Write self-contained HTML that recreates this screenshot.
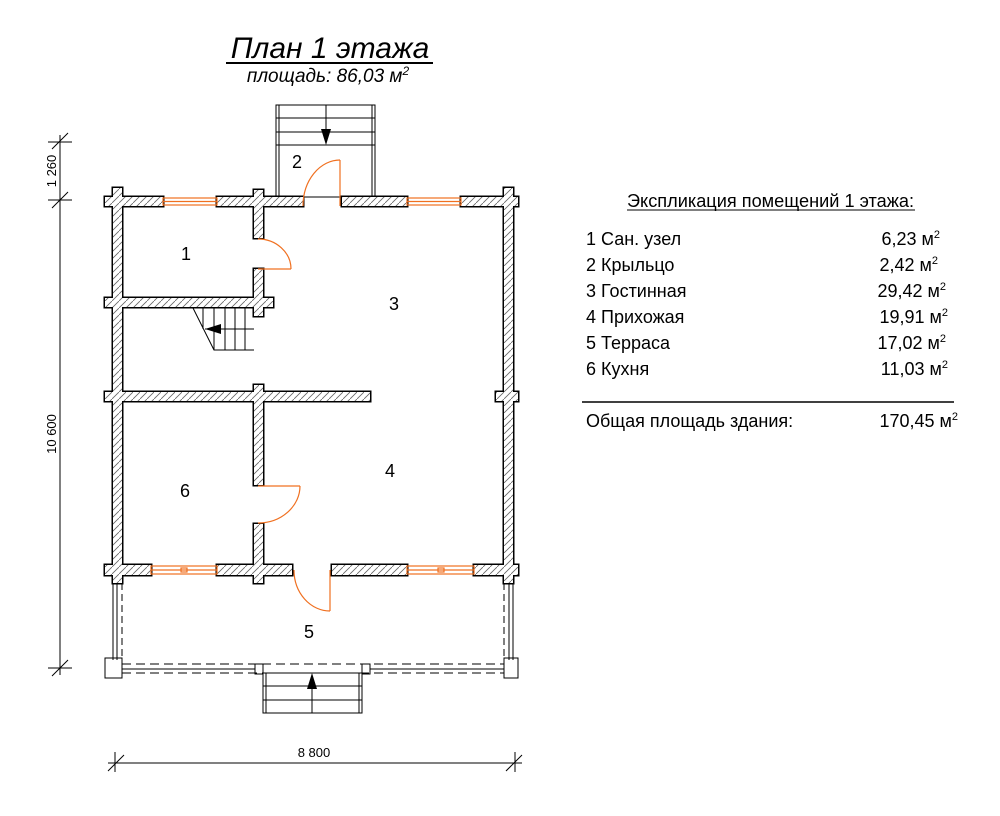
<!DOCTYPE html>
<html><head><meta charset="utf-8"><style>
html,body{margin:0;padding:0;background:#fff;}
svg{display:block;font-family:"Liberation Sans",sans-serif;}
</style></head><body>
<svg width="1000" height="816" viewBox="0 0 1000 816" xmlns="http://www.w3.org/2000/svg">
<defs>
<pattern id="h" width="7" height="7" patternUnits="userSpaceOnUse">
<rect width="7" height="7" fill="#fff"/>
<path d="M-1,8 L8,-1" stroke="#666" stroke-width="0.8"/>
</pattern>
</defs>
<!-- title -->
<text x="330" y="58" font-size="30" font-style="italic" text-anchor="middle" fill="#000">План 1 этажа</text>
<line x1="226" y1="63" x2="433" y2="63" stroke="#000" stroke-width="2"/>
<text x="328" y="82" font-size="19" font-style="italic" text-anchor="middle">площадь: 86,03 м<tspan font-size="12" dy="-7">2</tspan></text>

<!-- porch 2 stairs -->
<g stroke="#000" stroke-width="1" fill="none">
<rect x="276" y="105" width="99" height="92"/>
<line x1="279" y1="105" x2="279" y2="197"/><line x1="372" y1="105" x2="372" y2="197"/>
<line x1="276" y1="118" x2="375" y2="118"/><line x1="276" y1="132" x2="375" y2="132"/><line x1="276" y1="145" x2="375" y2="145"/>
<line x1="326" y1="105" x2="326" y2="132"/>
</g>
<polygon points="321,129 331,129 326,145" fill="#000"/>

<!-- inner stairs -->
<g stroke="#000" stroke-width="1" fill="none">
<polyline points="193,308 214,350 254,350"/>
<line x1="203" y1="308" x2="203" y2="329"/>
<line x1="214" y1="308" x2="214" y2="350"/><line x1="225" y1="308" x2="225" y2="350"/>
<line x1="235" y1="308" x2="235" y2="350"/><line x1="245" y1="308" x2="245" y2="350"/>
<line x1="205" y1="329" x2="254" y2="329"/>
</g>
<polygon points="205,329 221,324 221,334" fill="#000"/>

<!-- terrace -->
<g stroke="#000" stroke-width="1" fill="none">
<line x1="113" y1="583" x2="113" y2="660"/><line x1="122" y1="583" x2="122" y2="660" stroke-dasharray="7,4"/>
<line x1="117" y1="583" x2="117" y2="660"/>
<line x1="513" y1="583" x2="513" y2="660"/><line x1="504" y1="583" x2="504" y2="660" stroke-dasharray="7,4"/>
<line x1="509" y1="583" x2="509" y2="660"/>
<line x1="122" y1="664" x2="504" y2="664" stroke-dasharray="9,5"/>
<line x1="122" y1="673" x2="504" y2="673" stroke-dasharray="9,5"/>
<line x1="122" y1="669" x2="255" y2="669"/><line x1="370" y1="669" x2="504" y2="669"/>
<rect x="105" y="658" width="17" height="20"/>
<rect x="504" y="658" width="14" height="20"/>
<rect x="255" y="664" width="8" height="10"/><rect x="362" y="664" width="8" height="10"/>
<rect x="263" y="673" width="99" height="40"/>
<line x1="266" y1="673" x2="266" y2="713"/><line x1="359" y1="673" x2="359" y2="713"/>
<line x1="263" y1="686" x2="362" y2="686"/><line x1="263" y1="700" x2="362" y2="700"/>
<line x1="312" y1="680" x2="312" y2="713"/>
</g>
<polygon points="307,689 317,689 312,673" fill="#000"/>

<!-- walls: stroke layer -->
<g stroke="#000" stroke-width="3" fill="#000">
<rect x="105" y="197" width="58" height="9"/><rect x="217" y="197" width="86" height="9"/>
<rect x="342" y="197" width="65" height="9"/><rect x="461" y="197" width="57" height="9"/>
<rect x="113" y="188" width="9" height="395"/><rect x="504" y="188" width="9" height="395"/>
<rect x="254" y="190" width="9" height="48"/>
<rect x="105" y="298" width="168" height="9"/><rect x="254" y="269" width="9" height="47"/>
<rect x="105" y="392" width="265" height="9"/><rect x="496" y="392" width="22" height="9"/>
<rect x="254" y="385" width="9" height="100"/><rect x="254" y="524" width="9" height="59"/>
<rect x="105" y="565" width="46" height="10"/><rect x="217" y="565" width="75" height="10"/>
<rect x="332" y="565" width="75" height="10"/><rect x="474" y="565" width="44" height="10"/>
</g>
<g stroke="none" fill="url(#h)">
<rect x="105" y="197" width="58" height="9"/><rect x="217" y="197" width="86" height="9"/>
<rect x="342" y="197" width="65" height="9"/><rect x="461" y="197" width="57" height="9"/>
<rect x="113" y="188" width="9" height="395"/><rect x="504" y="188" width="9" height="395"/>
<rect x="254" y="190" width="9" height="48"/>
<rect x="105" y="298" width="168" height="9"/><rect x="254" y="269" width="9" height="47"/>
<rect x="105" y="392" width="265" height="9"/><rect x="496" y="392" width="22" height="9"/>
<rect x="254" y="385" width="9" height="100"/><rect x="254" y="524" width="9" height="59"/>
<rect x="105" y="565" width="46" height="10"/><rect x="217" y="565" width="75" height="10"/>
<rect x="332" y="565" width="75" height="10"/><rect x="474" y="565" width="44" height="10"/>
</g>

<!-- windows & doors -->
<g stroke="#f07020" stroke-width="1.2" fill="none">
<rect x="163" y="198" width="54" height="7"/><line x1="163" y1="201.5" x2="217" y2="201.5"/>
<rect x="407" y="198" width="54" height="7"/><line x1="407" y1="201.5" x2="461" y2="201.5"/>
<rect x="151" y="566" width="66" height="8"/><line x1="151" y1="570" x2="217" y2="570"/>
<rect x="181" y="568" width="6" height="4"/>
<rect x="407" y="566" width="67" height="8"/><line x1="407" y1="570" x2="474" y2="570"/>
<rect x="438" y="568" width="6" height="4"/>
<line x1="340" y1="206" x2="340" y2="160"/><path d="M340,160 A37,46 0 0 0 303,206"/>
<line x1="258" y1="269" x2="291" y2="269"/><path d="M258,239 A33,30 0 0 1 291,269"/>
<line x1="258" y1="486" x2="300" y2="486"/><path d="M300,486 A42,37 0 0 1 258,523"/>
<line x1="330" y1="570" x2="330" y2="611"/><path d="M294,570 A36,41 0 0 0 330,611"/>
</g>

<!-- room numbers -->
<g font-size="18" text-anchor="middle">
<text x="297" y="168">2</text><text x="186" y="260">1</text><text x="394" y="310">3</text>
<text x="390" y="477">4</text><text x="185" y="497">6</text><text x="309" y="638">5</text>
</g>

<!-- dims -->
<g stroke="#000" stroke-width="1">
<line x1="60" y1="135" x2="60" y2="675"/>
<line x1="52" y1="149" x2="68" y2="133"/><line x1="52" y1="208" x2="68" y2="192"/><line x1="52" y1="676" x2="68" y2="660"/>
<line x1="48" y1="142" x2="72" y2="142"/><line x1="48" y1="200" x2="72" y2="200"/><line x1="48" y1="668" x2="72" y2="668"/>
<line x1="108" y1="763" x2="522" y2="763"/>
<line x1="108" y1="771" x2="124" y2="755"/><line x1="506" y1="771" x2="522" y2="755"/>
<line x1="115" y1="752" x2="115" y2="772"/><line x1="515" y1="752" x2="515" y2="772"/>
</g>
<g font-size="13" text-anchor="middle">
<text transform="translate(56,171) rotate(-90)">1 260</text>
<text transform="translate(56,434) rotate(-90)">10 600</text>
<text x="314" y="757">8 800</text>
</g>

<!-- explication -->
<g font-size="18">
<text x="627" y="207" textLength="287" lengthAdjust="spacingAndGlyphs">Экспликация помещений 1 этажа:</text>
<line x1="627" y1="210" x2="915" y2="210" stroke="#000" stroke-width="1"/>
<text x="586" y="245">1 Сан. узел</text><text x="586" y="271">2 Крыльцо</text>
<text x="586" y="297">3 Гостинная</text><text x="586" y="323">4 Прихожая</text>
<text x="586" y="349">5 Терраса</text><text x="586" y="375">6 Кухня</text>
<text x="586" y="427">Общая площадь здания:</text>
</g>
<g font-size="18" text-anchor="end">
<text x="940" y="245">6,23 м<tspan font-size="11" dy="-7">2</tspan></text>
<text x="938" y="271">2,42 м<tspan font-size="11" dy="-7">2</tspan></text>
<text x="946" y="297">29,42 м<tspan font-size="11" dy="-7">2</tspan></text>
<text x="948" y="323">19,91 м<tspan font-size="11" dy="-7">2</tspan></text>
<text x="946" y="349">17,02 м<tspan font-size="11" dy="-7">2</tspan></text>
<text x="948" y="375">11,03 м<tspan font-size="11" dy="-7">2</tspan></text>
<text x="958" y="427">170,45 м<tspan font-size="11" dy="-7">2</tspan></text>
</g>
<line x1="582" y1="402" x2="954" y2="402" stroke="#000" stroke-width="1.5"/>
</svg>
</body></html>
